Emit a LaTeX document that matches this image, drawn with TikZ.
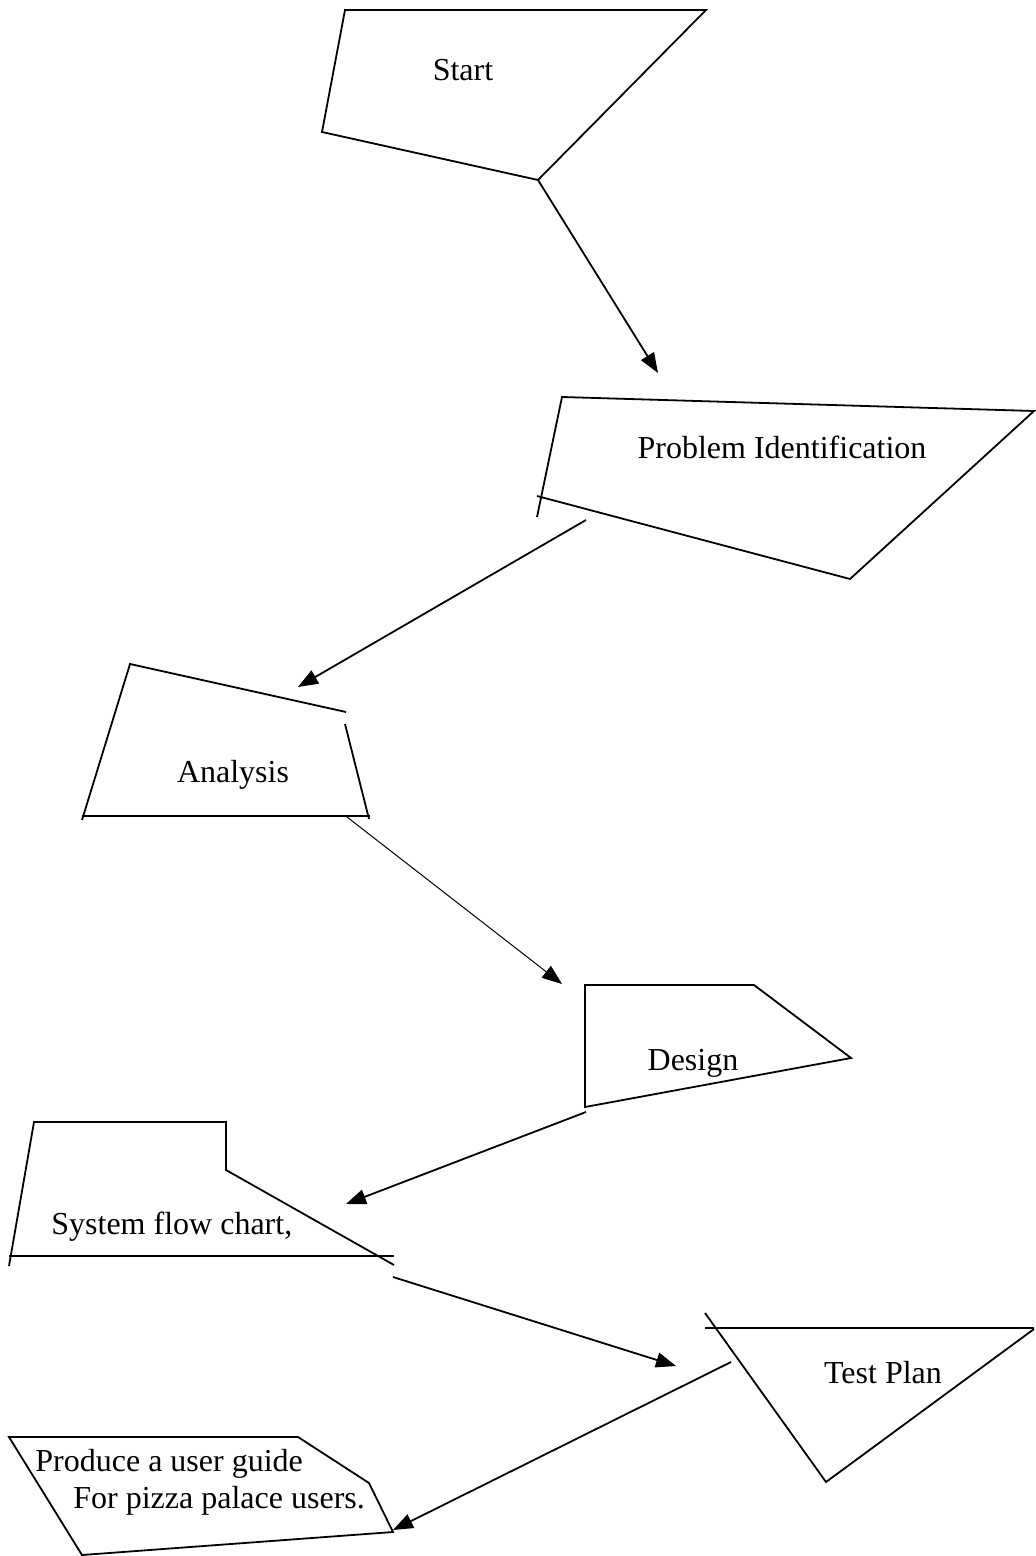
\documentclass[tikz,border=0pt]{standalone}
\usepackage{fontspec}
\setmainfont{Liberation Serif}
\usetikzlibrary{arrows.meta}

\begin{document}
\begin{tikzpicture}[x=0.5pt,y=-0.5pt,
  edge/.style={line width=0.9pt},
  flowarrow/.style={line width=0.9pt,-{Triangle[length=10pt,width=7.5pt]}},
  lbl/.style={font=\fontsize{16}{18.5}\selectfont}]
\useasboundingbox (0,0) rectangle (1035,1556);

% boxes
\draw [edge] (322,132) -- (345,10) -- (706,10) -- (538,180) -- cycle;
\draw [edge] (537,517) -- (562,397) -- (1034,411) -- (850,579) -- (537,496);
\draw [edge] (346,712) -- (130,664) -- (82,820);
\draw [edge] (345,724) -- (369,819);
\draw [edge] (82,816) -- (370,816);
\draw [edge] (585,1107) -- (585,985) -- (754,985) -- (851,1058) -- cycle;
\draw [edge] (9,1266) -- (34,1122) -- (226,1122) -- (226,1170) -- (394,1265);
\draw [edge] (9,1256) -- (394,1256);
\draw [edge] (705,1328) -- (1034,1328);
\draw [edge] (705,1313) -- (826,1482) -- (1034,1329);
\draw [edge] (9,1437) -- (298,1437) -- (369,1483) -- (393,1532) -- (82,1555) -- cycle;

% labels
\node [lbl] (start) at (463,70) {Start};
\node [lbl] (probid) at (782,447) {Problem Identification};
\node [lbl] (analysis) at (233,775) {Analysis};
\node [lbl] (design) at (693,1063) {Design};
\node [lbl,anchor=west,inner sep=0pt] (sysflow) at (51,1227) {System flow chart,};
\node [lbl] (testplan) at (883,1373) {Test Plan};
\node [lbl,anchor=west,align=left,inner sep=0pt] (guide) at (35,1482)
  {Produce a user guide\\\hspace{19pt}For pizza palace users.};

% arrow ends
\coordinate (start-out) at (538,180);
\coordinate (probid-in) at (658,373);
\coordinate (probid-out) at (586,520);
\coordinate (analysis-in) at (298,687);
\coordinate (analysis-out) at (347,817);
\coordinate (design-in) at (562,984);
\coordinate (design-out) at (586,1112);
\coordinate (sysflow-in) at (346,1204);
\coordinate (sysflow-out) at (393,1277);
\coordinate (testplan-in) at (676,1366);
\coordinate (testplan-out) at (731,1362);
\coordinate (guide-in) at (393,1530);

\draw [flowarrow] (start-out) -- (probid-in);
\draw [flowarrow] (probid-out) -- (analysis-in);
\draw [flowarrow,line width=0.5pt] (analysis-out) -- (design-in);
\draw [flowarrow] (design-out) -- (sysflow-in);
\draw [flowarrow] (sysflow-out) -- (testplan-in);
\draw [flowarrow] (testplan-out) -- (guide-in);

\end{tikzpicture}
\end{document}
